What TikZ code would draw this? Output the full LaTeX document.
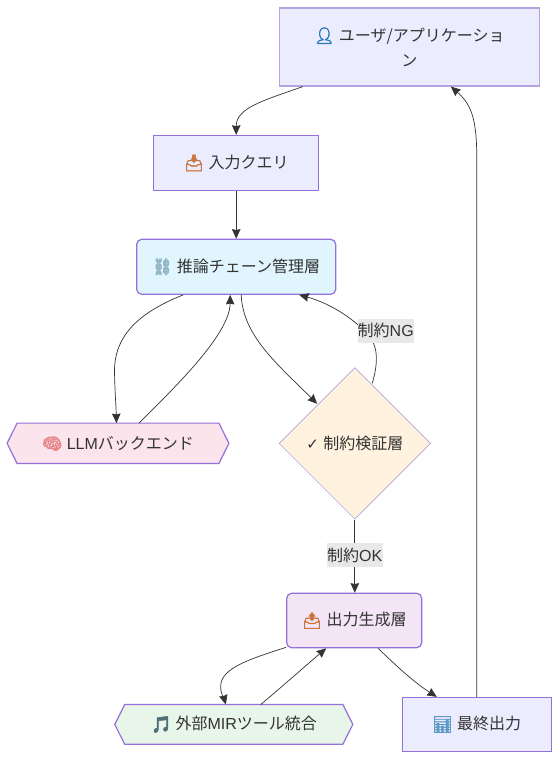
\documentclass[tikz,border=0pt]{standalone}
\usepackage{fontspec}
\setmainfont{Liberation Sans}
\newfontfamily\cjk{Noto Sans CJK JP}
\newfontfamily\emo[FakeBold=3]{Noto Emoji}
\newfontfamily\dejav{DejaVu Sans}
\usetikzlibrary{shapes.geometric,arrows.meta,calc,backgrounds}
\definecolor{ink}{HTML}{333333}
\definecolor{edge}{HTML}{333333}
\definecolor{stroke}{HTML}{9370DB}
\definecolor{softstroke}{HTML}{B3A4DF}
\definecolor{lav}{HTML}{ECECFF}
\definecolor{sky}{HTML}{E1F5FE}
\definecolor{rose}{HTML}{FCE4EC}
\definecolor{peach}{HTML}{FFF3E0}
\definecolor{lilac}{HTML}{F3E5F5}
\definecolor{mint}{HTML}{E8F5E9}
\definecolor{lab}{HTML}{E8E8E8}
\definecolor{emblue}{HTML}{2A78BE}
\definecolor{emorange}{HTML}{C9743C}
\definecolor{emsteel}{HTML}{8FB4C4}
\definecolor{empink}{HTML}{E8858A}
\definecolor{emteal}{HTML}{4F7078}
\definecolor{emchart}{HTML}{5E9AC8}
\newcommand{\J}[1]{{\cjk #1}}
\newcommand{\E}[2]{{\emo\textcolor{#1}{#2}}}
\tikzset{
  x=1pt,y=-1pt,
  every node/.style={font=\fontsize{16}{25}\selectfont,text=ink,inner sep=0pt},
  box/.style={rectangle,fill=lav,draw=stroke,line width=0.9pt,align=center},
  softbox/.style={box,draw=softstroke,line width=1.2pt},
  rbox/.style={rectangle,rounded corners=5pt,draw=stroke,line width=1.2pt,align=center},
  hexbox/.style={rectangle,align=center},
  hexline/.style={draw=stroke,line width=1.2pt,line join=round},
  dia/.style={diamond,aspect=1,fill=peach,draw=softstroke,line width=0.7pt},
  conn/.style={draw=edge,line width=0.7pt,-{Stealth[length=9.5pt,width=8.5pt,inset=0.8pt]}},
  lbl/.style={fill=lab,font=\fontsize{16}{18}\selectfont}
}
\begin{document}
\begin{tikzpicture}
\useasboundingbox (0,0) rectangle (559,759);
\node[softbox,minimum width=260pt,minimum height=78pt] (user) at (409.4,47) {\E{emblue}{👤} \J{ユーザ/アプリケーショ}\\\J{ン}};
\node[box,minimum width=165pt,minimum height=54.5pt] (input) at (236.2,163) {\E{emorange}{📥} \J{入力クエリ}};
\node[rbox,fill=sky,minimum width=199pt,minimum height=55pt] (chain) at (236.2,266.8) {\E{emsteel}{⛓} \J{推論チェーン管理層}};
\node[hexbox,minimum width=221.4pt,minimum height=40pt] (llm) at (118,443.3) {\E{empink}{🧠} LLM\J{バックエンド}};
\node[dia,minimum width=151.6pt,minimum height=151.6pt] (check) at (354.8,443.4) {{\dejav\fontsize{15}{15}\selectfont ✓} \J{制約検証層}};
\node[rbox,fill=lilac,minimum width=135pt,minimum height=54.4pt] (output) at (354.2,620.5) {\E{emorange}{📤} \J{出力生成層}};
\node[hexbox,minimum width=237.7pt,minimum height=39.4pt] (mir) at (233.8,724.4) {\E{emteal}{🎵} \J{外部}MIR\J{ツール統合}};
\node[box,minimum width=149pt,minimum height=54.4pt] (final) at (476.8,724.5) {\E{emchart}{📊} \J{最終出力}};
\begin{scope}[on background layer]
\path[hexline,fill=rose] (llm.west) -- ($(llm.north west)+(10,0)$) -- ($(llm.north east)+(-10,0)$) -- (llm.east) -- ($(llm.south east)+(-10,0)$) -- ($(llm.south west)+(10,0)$) -- cycle;
\path[hexline,fill=mint] (mir.west) -- ($(mir.north west)+(10,0)$) -- ($(mir.north east)+(-10,0)$) -- (mir.east) -- ($(mir.south east)+(-10,0)$) -- ($(mir.south west)+(10,0)$) -- cycle;
\end{scope}
\draw[conn] ($(user.south west)+(24,0)$) .. controls (262,101) and (236.2,108) .. ($(input.north)+(0,-0.5)$);
\draw[conn] (input.south) -- (chain.north);
\draw[conn] ($(chain.south)+(-53,0)$) .. controls (140,312) and (114,335) .. (114.5,372) .. controls (115,395) and (116,405) .. ($(llm.north)+(-1.5,0)$);
\draw[conn] ($(llm.north)+(21,0)$) .. controls (170,392) and (230,335) .. ($(chain.south)+(-6,0)$);
\draw[conn] ($(chain.south)+(5,0)$) .. controls (243,335) and (275,362) .. ($(check.north west)+(0.5,-1.5)$);
\draw[conn] ($(check.north)+(17.5,16)$) .. controls (376,370) and (379,355) .. (373,342) .. controls (369,332) and (340,306) .. ($(chain.south)+(63,0)$);
\draw[conn] (check.south) -- ($(output.north)+(0.6,0)$);
\draw[conn] ($(output.south west)+(0,-1)$) .. controls (250,659) and (221,668) .. (220.7,686) .. controls (220.5,694) and (224,698) .. ($(mir.north)+(-8,0)$);
\draw[conn] ($(mir.north)+(27,0)$) .. controls (285,684) and (310,662) .. ($(output.south)+(-28,0)$);
\draw[conn] ($(output.south)+(24,0)$) .. controls (395,665) and (415,683) .. ($(final.north)+(-40,0)$);
\draw[conn] (final.north) -- (476.8,160) .. controls (476.8,120) and (472,105) .. ($(user.south)+(41.5,0)$);
\node[lbl,minimum width=55.5pt,minimum height=23.6pt] (ng) at (385.7,330.9) {\J{制約}NG};
\node[lbl,minimum width=55.5pt,minimum height=23.6pt] (ok) at (354.8,555) {\J{制約}OK};
\end{tikzpicture}
\end{document}
